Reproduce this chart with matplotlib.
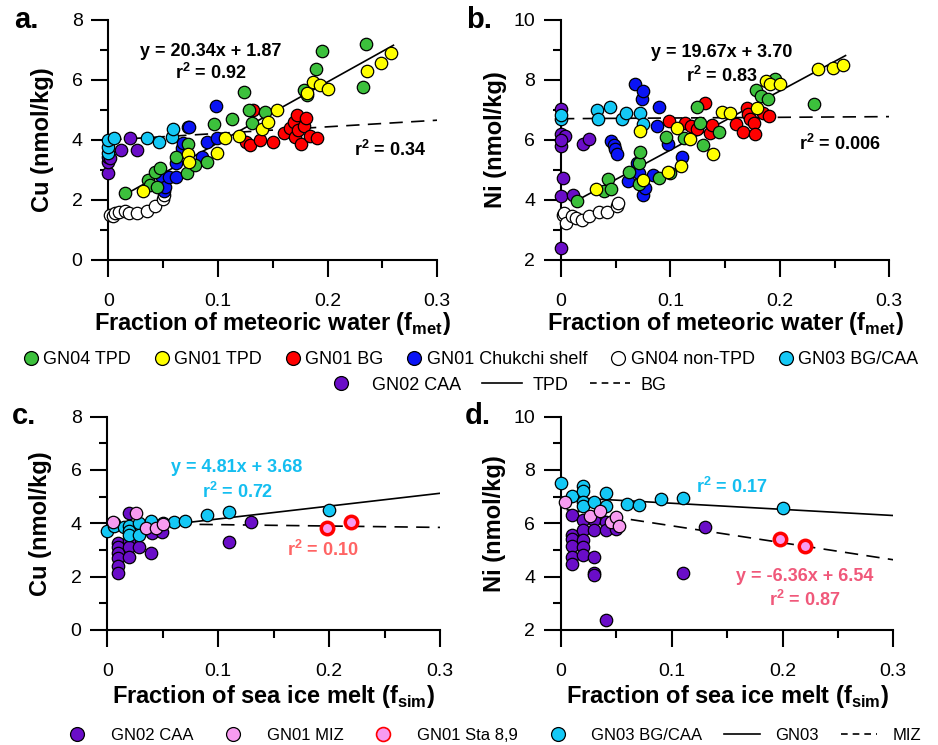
import matplotlib
matplotlib.use('Agg')
import matplotlib.pyplot as plt
from matplotlib.lines import Line2D
from matplotlib import font_manager
import numpy as np

names = {f.name for f in font_manager.fontManager.ttflist}
narrow = 'Liberation Sans Narrow' if 'Liberation Sans Narrow' in names else 'Liberation Sans'

plt.rcParams['font.family'] = ['Liberation Sans', 'DejaVu Sans']
plt.rcParams['mathtext.fontset'] = 'custom'
plt.rcParams['mathtext.rm'] = 'Liberation Sans'
plt.rcParams['mathtext.bf'] = 'Liberation Sans:bold'

# ---- panel a: Cu vs fmet ----
a_tpd4_x = [0.015, 0.036, 0.038, 0.043, 0.044, 0.047, 0.062, 0.072, 0.073, 0.079, 0.090, 0.096,
            0.113, 0.124, 0.128, 0.131, 0.143, 0.178, 0.181, 0.189, 0.195, 0.232, 0.235]
a_tpd4_y = [2.24, 2.67, 2.50, 2.92, 2.44, 3.06, 3.44, 2.89, 3.87, 3.17, 3.28, 4.53,
            4.69, 5.59, 5.00, 4.56, 4.92, 5.67, 5.50, 6.36, 6.98, 5.78, 7.19]
a_tpd1_x = [0.032, 0.073, 0.074, 0.099, 0.106, 0.119, 0.140, 0.146, 0.154, 0.181, 0.187, 0.193,
            0.200, 0.236, 0.249, 0.258]
a_tpd1_y = [2.30, 3.52, 3.28, 3.56, 4.06, 4.13, 4.36, 4.61, 5.00, 5.58, 5.94, 5.83,
            5.69, 6.31, 6.58, 6.89]
a_bg_x = [0.126, 0.129, 0.132, 0.138, 0.150, 0.160, 0.166, 0.169, 0.170, 0.172, 0.173, 0.176,
          0.178, 0.180, 0.184, 0.190]
a_bg_y = [3.92, 3.83, 5.00, 4.00, 3.93, 4.24, 4.41, 4.61, 4.11, 4.83, 4.33, 3.87,
          4.47, 4.72, 4.13, 4.06]
a_chuk_x = [0.049, 0.051, 0.052, 0.055, 0.062, 0.062, 0.067, 0.068, 0.074, 0.085, 0.090, 0.098, 0.099]
a_chuk_y = [2.78, 2.31, 2.44, 2.78, 2.78, 3.22, 3.72, 3.89, 4.44, 3.44, 3.94, 5.13, 4.06]
a_non_x = [0.002, 0.004, 0.006, 0.010, 0.015, 0.019, 0.026, 0.035, 0.043, 0.050, 0.051]
a_non_y = [1.50, 1.45, 1.56, 1.60, 1.64, 1.58, 1.56, 1.64, 1.80, 2.02, 2.17]
a_gn03_x = [0.0, 0.0, 0.0, 0.005, 0.035, 0.046, 0.058, 0.059, 0.073]
a_gn03_y = [3.56, 3.78, 4.00, 4.08, 4.08, 3.94, 4.11, 4.36, 4.44]
a_gn02_x = [0.0, 0.0, 0.0, 0.002, 0.012, 0.020, 0.026]
a_gn02_y = [2.91, 3.28, 3.44, 3.40, 3.67, 4.08, 3.67]

# ---- panel b: Ni vs fmet ----
b_tpd4_x = [0.015, 0.039, 0.043, 0.046, 0.062, 0.071, 0.071, 0.072, 0.090, 0.096, 0.100, 0.112,
            0.124, 0.127, 0.130, 0.144, 0.178, 0.183, 0.189, 0.196, 0.231]
b_tpd4_y = [3.97, 4.30, 4.69, 4.38, 4.93, 4.52, 5.24, 5.61, 4.74, 6.10, 4.91, 6.06,
            7.11, 6.58, 5.83, 6.28, 7.67, 7.47, 7.38, 8.02, 7.19]
b_tpd1_x = [0.032, 0.072, 0.075, 0.098, 0.106, 0.110, 0.118, 0.139, 0.147, 0.154, 0.179, 0.187,
            0.191, 0.200, 0.235, 0.249, 0.258]
b_tpd1_y = [4.36, 6.30, 4.66, 4.94, 6.41, 5.13, 6.04, 5.52, 6.94, 6.91, 7.08, 7.97,
            7.86, 7.86, 8.38, 8.41, 8.50]
b_bg_x = [0.099, 0.113, 0.119, 0.124, 0.132, 0.136, 0.138, 0.160, 0.166, 0.170, 0.171, 0.173,
          0.176, 0.177, 0.185, 0.190]
b_bg_y = [6.63, 6.56, 6.45, 6.36, 7.22, 6.24, 6.49, 6.52, 6.28, 7.08, 6.86, 6.70,
          6.58, 6.19, 6.91, 6.80]
b_chuk_x = [0.046, 0.048, 0.049, 0.051, 0.061, 0.068, 0.069, 0.071, 0.074, 0.075, 0.075, 0.077,
            0.084, 0.088, 0.090, 0.098, 0.111]
b_chuk_y = [5.97, 5.85, 5.69, 5.52, 4.63, 7.88, 5.24, 4.91, 7.38, 7.63, 4.17, 4.41,
            4.83, 6.47, 7.10, 5.86, 5.44]
b_non_x = [0.002, 0.003, 0.005, 0.010, 0.014, 0.019, 0.026, 0.035, 0.042, 0.051, 0.052]
b_non_y = [3.50, 3.58, 3.24, 3.47, 3.41, 3.33, 3.47, 3.60, 3.60, 3.80, 3.91]
b_gn03_x = [0.0, 0.0, 0.033, 0.034, 0.045, 0.056, 0.059, 0.072, 0.075]
b_gn03_y = [6.71, 6.85, 7.00, 6.71, 7.11, 6.69, 6.91, 6.91, 6.52]
b_gn02_x = [0.0, 0.0, 0.004, 0.0, 0.020, 0.026, 0.002, 0.0, 0.011, 0.0, 0.0]
b_gn02_y = [7.04, 6.19, 6.13, 5.80, 5.86, 6.04, 4.72, 4.13, 4.16, 2.40, 6.00]

# ---- panel c: Cu vs fsim ----
c_gn02_x = [0.010, 0.010, 0.010, 0.010, 0.010, 0.010, 0.020, 0.020, 0.020, 0.020, 0.029, 0.039,
            0.040, 0.049, 0.110, 0.130, 0.006]
c_gn02_y = [3.25, 3.10, 2.88, 2.69, 2.38, 2.15, 4.40, 3.35, 3.12, 2.72, 3.10, 2.90,
            3.62, 3.69, 3.31, 4.06, 4.00]
c_gn03_x = [0.0, 0.006, 0.015, 0.020, 0.020, 0.020, 0.029, 0.029, 0.039, 0.050, 0.060, 0.070,
            0.090, 0.110, 0.200]
c_gn03_y = [3.72, 3.90, 3.85, 3.90, 3.72, 3.56, 4.00, 3.56, 4.09, 4.00, 4.06, 4.10,
            4.31, 4.44, 4.48]
c_miz_x = [0.005, 0.026, 0.035, 0.044, 0.050]
c_miz_y = [4.06, 4.40, 3.81, 3.81, 3.97]
c_sta_x = [0.198, 0.220]
c_sta_y = [3.84, 4.03]

# ---- panel d: Ni vs fsim ----
d_gn02_x = [0.010, 0.010, 0.010, 0.010, 0.010, 0.010, 0.020, 0.020, 0.020, 0.020, 0.020, 0.030,
            0.030, 0.030, 0.030, 0.030, 0.041, 0.041, 0.050, 0.041, 0.130, 0.110]
d_gn02_y = [6.31, 5.56, 5.40, 5.13, 4.75, 4.48, 6.13, 5.75, 5.38, 5.10, 4.81, 6.13,
            5.73, 4.75, 4.15, 4.06, 6.06, 5.75, 5.78, 2.38, 5.85, 4.15]
d_gn03_x = [0.0, 0.010, 0.020, 0.020, 0.020, 0.020, 0.030, 0.041, 0.041, 0.060, 0.070, 0.090,
            0.110, 0.200]
d_gn03_y = [7.50, 7.03, 7.38, 7.20, 6.81, 6.63, 6.78, 7.13, 6.63, 6.73, 6.69, 6.90,
            6.94, 6.56]
d_miz_x = [0.004, 0.026, 0.035, 0.045, 0.050, 0.052]
d_miz_y = [6.78, 6.28, 6.46, 6.06, 6.23, 5.90]
d_sta_x = [0.198, 0.220]
d_sta_y = [5.41, 5.15]

# regression lines: slope, intercept, x start, x end
fit_a_tpd = [20.34, 1.87, 0.015, 0.26]
fit_a_bg = [2.2, 4.0, 0.0, 0.3]
fit_b_tpd = [19.67, 3.70, 0.015, 0.26]
fit_b_bg = [0.23, 6.71, 0.0, 0.3]
fit_c_gn03 = [4.81, 3.68, 0.0, 0.3]
fit_c_miz = [-0.52, 4.0, 0.005, 0.3]
fit_d_gn03 = [-2.3, 6.98, 0.0, 0.3]
fit_d_miz = [-6.36, 6.54, 0.005, 0.3]

GREEN = '#3CC03C'
YELLOW = '#FFFF00'
RED = '#FF0000'
BLUE = '#0A14F5'
CYAN = '#14C8F5'
PURPLE = '#6A0DC8'
PINK = '#F79BF0'
CYAN_TXT = '#14BEF0'
RED_TXT = '#FF6464'
PINK_TXT = '#F0587A'

MS = 80
DASH = (0, (8, 5))

fig = plt.figure(figsize=(9.38, 7.45), dpi=100)
W, H = 938, 745


def axes_px(l, r, t, b):
    return fig.add_axes([l / W, 1 - b / H, (r - l) / W, (b - t) / H])


ax_a = axes_px(108.3, 437.3, 20, 260)
ax_b = axes_px(561, 889.3, 20, 260)
ax_c = axes_px(107.3, 440, 416.5, 630)
ax_d = axes_px(561, 893.3, 416.5, 630)


def style(ax, ylim, ylabel, xlabel, label, lab_y):
    ax.set_xlim(0, 0.3)
    ax.set_ylim(*ylim)
    for s in ['top', 'right']:
        ax.spines[s].set_visible(False)
    for s in ['left', 'bottom']:
        ax.spines[s].set_linewidth(1.5)
    ax.set_xticks([0, 0.1, 0.2, 0.3])
    ax.set_xticklabels(['0', '0.1', '0.2', '0.3'])
    ax.set_xticks([0.05, 0.15, 0.25], minor=True)
    ax.set_yticks(np.arange(ylim[0], ylim[1] + 1, 2))
    ax.set_yticks(np.arange(ylim[0] + 1, ylim[1], 2), minor=True)
    ax.tick_params(which='major', direction='out', length=12.5, width=1.5, labelsize=14)
    ax.tick_params(which='minor', direction='out', length=5.8, width=1.5)
    ax.tick_params(axis='x', which='major', pad=11)
    ax.tick_params(axis='y', which='major', pad=6)
    ax.set_ylabel(ylabel, fontsize=17, fontweight='bold')
    ax.set_xlabel(xlabel, fontsize=17, fontweight='bold')
    ax.yaxis.set_label_coords(-0.165, 0.5)
    ax.xaxis.set_label_coords(0.5, lab_y)
    ax.text(-0.25, 1.0, label, transform=ax.transAxes, fontsize=21, fontweight='bold',
            ha='center', va='center')


def sc(ax, x, y, fc, ec='black', lw=0.9, z=3):
    ax.scatter(x, y, s=MS, c=fc, edgecolors=ec, linewidths=lw, zorder=z, clip_on=False)


def fit(ax, f, ls):
    xs = np.array([f[2], f[3]])
    ax.plot(xs, f[0] * xs + f[1], color='black', lw=1.2, ls=ls, zorder=2)


xl_met = r'Fraction of meteoric water (f$_\mathbf{met}$)'
xl_sim = r'Fraction of sea ice melt (f$_\mathbf{sim}$)'

# panel a
fit(ax_a, fit_a_tpd, '-')
fit(ax_a, fit_a_bg, DASH)
sc(ax_a, a_non_x, a_non_y, 'white')
sc(ax_a, a_gn02_x, a_gn02_y, PURPLE)
sc(ax_a, a_gn03_x, a_gn03_y, CYAN)
sc(ax_a, a_bg_x, a_bg_y, RED)
sc(ax_a, a_chuk_x, a_chuk_y, BLUE)
sc(ax_a, a_tpd4_x, a_tpd4_y, GREEN)
sc(ax_a, a_tpd1_x, a_tpd1_y, YELLOW)
style(ax_a, (0, 8), 'Cu (nmol/kg)', xl_met, 'a.', -0.21)
ax_a.text(0.093, 6.95, 'y = 20.34x + 1.87', fontsize=13, fontweight='bold', ha='center', va='center')
ax_a.text(0.093, 6.22, r'r$^\mathbf{2}$ = 0.92', fontsize=13, fontweight='bold', ha='center', va='center')
ax_a.text(0.257, 3.67, r'r$^\mathbf{2}$ = 0.34', fontsize=13, fontweight='bold', ha='center', va='center')

# panel b
fit(ax_b, fit_b_tpd, '-')
fit(ax_b, fit_b_bg, DASH)
sc(ax_b, b_non_x, b_non_y, 'white')
sc(ax_b, b_gn02_x, b_gn02_y, PURPLE)
sc(ax_b, b_gn03_x, b_gn03_y, CYAN)
sc(ax_b, b_bg_x, b_bg_y, RED)
sc(ax_b, b_chuk_x, b_chuk_y, BLUE)
sc(ax_b, b_tpd4_x, b_tpd4_y, GREEN)
sc(ax_b, b_tpd1_x, b_tpd1_y, YELLOW)
style(ax_b, (2, 10), 'Ni (nmol/kg)', xl_met, 'b.', -0.21)
ax_b.text(0.147, 8.92, 'y = 19.67x + 3.70', fontsize=13, fontweight='bold', ha='center', va='center')
ax_b.text(0.147, 8.12, r'r$^\mathbf{2}$ = 0.83', fontsize=13, fontweight='bold', ha='center', va='center')
ax_b.text(0.255, 5.86, r'r$^\mathbf{2}$ = 0.006', fontsize=13, fontweight='bold', ha='center', va='center')

# panel c
fit(ax_c, fit_c_gn03, '-')
fit(ax_c, fit_c_miz, DASH)
sc(ax_c, c_gn02_x, c_gn02_y, PURPLE)
sc(ax_c, c_gn03_x, c_gn03_y, CYAN)
sc(ax_c, c_miz_x, c_miz_y, PINK)
sc(ax_c, c_sta_x, c_sta_y, PINK, ec=RED, lw=2.5)
style(ax_c, (0, 8), 'Cu (nmol/kg)', xl_sim, 'c.', -0.25)
ax_c.text(0.117, 6.1, 'y = 4.81x + 3.68', fontsize=13, fontweight='bold', ha='center', va='center', color=CYAN_TXT)
ax_c.text(0.117, 5.17, r'r$^\mathbf{2}$ = 0.72', fontsize=13, fontweight='bold', ha='center', va='center', color=CYAN_TXT)
ax_c.text(0.194, 3.0, r'r$^\mathbf{2}$ = 0.10', fontsize=13, fontweight='bold', ha='center', va='center', color=RED_TXT)

# panel d
fit(ax_d, fit_d_gn03, '-')
fit(ax_d, fit_d_miz, DASH)
sc(ax_d, d_gn02_x, d_gn02_y, PURPLE)
sc(ax_d, d_gn03_x, d_gn03_y, CYAN)
sc(ax_d, d_miz_x, d_miz_y, PINK)
sc(ax_d, d_sta_x, d_sta_y, PINK, ec=RED, lw=2.5)
style(ax_d, (2, 10), 'Ni (nmol/kg)', xl_sim, 'd.', -0.25)
ax_d.text(0.154, 7.36, r'r$^\mathbf{2}$ = 0.17', fontsize=13, fontweight='bold', ha='center', va='center', color=CYAN_TXT)
ax_d.text(0.22, 3.99, 'y = -6.36x + 6.54', fontsize=13, fontweight='bold', ha='center', va='center', color=PINK_TXT)
ax_d.text(0.22, 3.12, r'r$^\mathbf{2}$ = 0.87', fontsize=13, fontweight='bold', ha='center', va='center', color=PINK_TXT)


# legends
def mk(fc, label, ec='black', lw=0.9):
    return Line2D([], [], ls='none', marker='o', markersize=10, markerfacecolor=fc,
                  markeredgecolor=ec, markeredgewidth=lw, label=label)


def ln(ls, label):
    return Line2D([], [], color='black', lw=1.2, ls=ls, label=label)


leg_font = {'family': narrow, 'size': 13}
bot_font = {'family': narrow, 'size': 12}
top1 = [mk(GREEN, 'GN04 TPD'), mk(YELLOW, 'GN01 TPD'), mk(RED, 'GN01 BG'),
        mk(BLUE, 'GN01 Chukchi shelf'), mk('white', 'GN04 non-TPD'), mk(CYAN, 'GN03 BG/CAA')]
top2 = [mk(PURPLE, 'GN02 CAA'), ln('-', 'TPD'), ln((0, (4, 3)), 'BG')]
bot = [mk(PURPLE, 'GN02 CAA'), mk(PINK, 'GN01 MIZ'), mk(PINK, 'GN01 Sta 8,9', ec=RED, lw=1.2),
       mk(CYAN, 'GN03 BG/CAA'), ln('-', 'GN03'), ln((0, (4, 3)), 'MIZ')]

fig.legend(handles=top1, loc='center', bbox_to_anchor=(470 / W, 1 - 360 / H), ncol=6,
           frameon=False, prop=leg_font, handletextpad=0.2, columnspacing=1.2,
           handlelength=1.0, borderpad=0)
fig.legend(handles=top2, loc='center', bbox_to_anchor=(494 / W, 1 - 385 / H), ncol=3,
           frameon=False, prop=leg_font, handletextpad=0.6, columnspacing=1.2,
           handlelength=2.2, borderpad=0)
fig.legend(handles=bot, loc='center', bbox_to_anchor=(490 / W, 1 - 735 / H), ncol=6,
           frameon=False, prop=bot_font, handletextpad=0.9, columnspacing=1.3,
           handlelength=2.2, borderpad=0)

fig.savefig('out.png', dpi=100)
